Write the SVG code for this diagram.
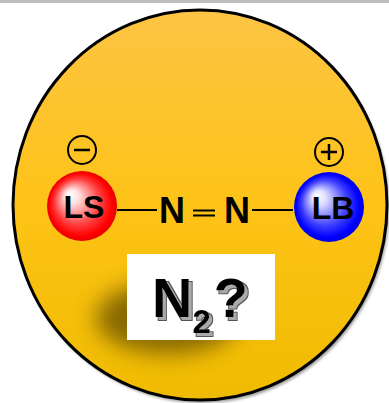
<svg xmlns="http://www.w3.org/2000/svg" width="389" height="403" viewBox="0 0 389 403">
<defs>
<linearGradient id="bg" x1="0" y1="0" x2="0" y2="1">
<stop offset="0" stop-color="#fcc444"/>
<stop offset="0.5" stop-color="#fec317"/>
<stop offset="1" stop-color="#efbb00"/>
</linearGradient>
<radialGradient id="red" cx="0.5" cy="0.5" r="0.5" fx="0.32" fy="0.33">
<stop offset="0" stop-color="#ffffff"/>
<stop offset="0.2" stop-color="#ffe0e0"/>
<stop offset="0.65" stop-color="#ff4040"/>
<stop offset="0.9" stop-color="#ff0000"/>
<stop offset="1" stop-color="#e80000"/>
</radialGradient>
<radialGradient id="blue" cx="0.5" cy="0.5" r="0.5" fx="0.32" fy="0.33">
<stop offset="0" stop-color="#ffffff"/>
<stop offset="0.2" stop-color="#e0e0ff"/>
<stop offset="0.65" stop-color="#4040ff"/>
<stop offset="0.9" stop-color="#0000ff"/>
<stop offset="1" stop-color="#0000e8"/>
</radialGradient>
<filter id="soft" x="-20%" y="-20%" width="140%" height="140%">
<feGaussianBlur stdDeviation="1.5"/>
</filter>
<filter id="blob" x="-50%" y="-50%" width="200%" height="200%">
<feGaussianBlur stdDeviation="11"/>
</filter>
<filter id="tshadow" x="-10%" y="-10%" width="130%" height="130%">
<feMorphology in="SourceAlpha" operator="dilate" radius="0.6" result="d"/>
<feOffset in="d" dx="3" dy="3" result="o"/>
<feFlood flood-color="#555"/>
<feComposite in2="o" operator="in" result="edge"/>
<feOffset in="SourceAlpha" dx="3" dy="3" result="o2"/>
<feFlood flood-color="#aaa"/>
<feComposite in2="o2" operator="in" result="fill"/>
<feMerge><feMergeNode in="edge"/><feMergeNode in="fill"/><feMergeNode in="SourceGraphic"/></feMerge>
</filter>
<style>
.lbl{font-family:"Liberation Sans",Arial,sans-serif;font-weight:bold;fill:#000}
.bond{stroke:#000;stroke-width:2}
.ring{fill:none;stroke:#000;stroke-width:2}
.sign{stroke:#000;stroke-width:2.5}
</style>
</defs>
<rect x="0" y="0" width="389" height="3" fill="#bdbdbd"/>
<g id="background">
<ellipse cx="202" cy="208" rx="187" ry="195" fill="#999" filter="url(#soft)"/>
<ellipse cx="200" cy="205" rx="187" ry="195" fill="url(#bg)" stroke="#000" stroke-width="3"/>
</g>
<g id="shadow">
<ellipse cx="168" cy="318" rx="72" ry="36" fill="#6b5300" opacity="0.8" filter="url(#blob)"/>
</g>
<g id="connectors">
<line class="bond" x1="117" y1="210" x2="157" y2="210"/>
<line class="bond" x1="252" y1="210" x2="293" y2="210"/>
<line class="bond" x1="193" y1="210.5" x2="215" y2="210.5"/>
<line class="bond" x1="193" y1="215.5" x2="215" y2="215.5"/>
</g>
<g id="N1"><text class="lbl" x="172" y="223" font-size="36" text-anchor="middle">N</text></g>
<g id="N2"><text class="lbl" x="237" y="223" font-size="36" text-anchor="middle">N</text></g>
<g id="LS">
<circle cx="82" cy="206" r="35" fill="url(#red)"/>
<text class="lbl" x="84" y="218" font-size="32" text-anchor="middle">LS</text>
</g>
<g id="LB">
<circle cx="329" cy="207" r="35" fill="url(#blue)"/>
<text class="lbl" x="333" y="219" font-size="32" text-anchor="middle">LB</text>
</g>
<g id="minus">
<circle class="ring" cx="82" cy="150" r="14"/>
<line class="sign" x1="74" y1="150" x2="90" y2="150"/>
</g>
<g id="plus">
<circle class="ring" cx="329" cy="152" r="14"/>
<line class="sign" x1="321" y1="152" x2="337" y2="152"/>
<line class="sign" x1="329" y1="144" x2="329" y2="160"/>
</g>
<g id="question">
<rect x="127" y="254" width="148" height="86" fill="#fff"/>
<text class="lbl" x="152" y="317" font-size="56" filter="url(#tshadow)">N<tspan font-size="33" dy="16">2</tspan><tspan dy="-16" dx="3">?</tspan></text>
</g>
</svg>
